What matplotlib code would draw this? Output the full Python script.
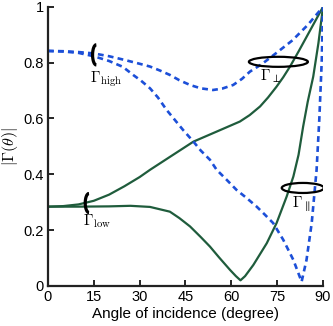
import matplotlib
matplotlib.use("Agg")
import matplotlib.pyplot as plt
from matplotlib.patches import Ellipse, Arc

plt.rcParams['font.family'] = ['Liberation Sans', 'DejaVu Sans']
plt.rcParams['mathtext.fontset'] = 'cm'

# values
theta_perp_low = [0, 5, 10, 15, 20, 25, 30, 33.4, 40, 47.6, 55, 62.8, 66, 69.4, 72, 74.8, 77,
                  79.2, 82, 85, 87.5, 90]
perp_low = [0.284, 0.286, 0.292, 0.305, 0.327, 0.357, 0.39, 0.416, 0.463, 0.517, 0.552, 0.589,
            0.612, 0.643, 0.675, 0.714, 0.748, 0.786, 0.84, 0.9, 0.95, 1.0]

theta_par_low = [0, 10, 20, 27, 33.4, 39.9, 43, 46.5, 50, 53, 56, 59.6, 61.5, 63, 64.5, 67.2,
                 71.6, 74.8, 78.1, 80.3, 82, 83.5, 85, 86.8, 88.5, 90]
par_low = [0.284, 0.284, 0.285, 0.287, 0.283, 0.266, 0.243, 0.213, 0.175, 0.141, 0.102, 0.057,
           0.035, 0.02, 0.035, 0.075, 0.153, 0.225, 0.32, 0.392, 0.47, 0.571, 0.66, 0.75,
           0.87, 1.0]

theta_perp_high = [0, 5, 10, 15, 20, 25, 30, 33.4, 36.6, 39.9, 43, 46.5, 50, 54, 57, 60.6,
                   63.5, 66.1, 70, 75, 80, 85, 90]
perp_high = [0.842, 0.841, 0.838, 0.833, 0.823, 0.81, 0.796, 0.786, 0.772, 0.756, 0.737, 0.72,
             0.708, 0.702, 0.707, 0.72, 0.742, 0.768, 0.795, 0.837, 0.88, 0.935, 1.0]

theta_par_high = [0, 5, 10, 15, 20, 24.5, 28, 30.5, 33.4, 36, 38.8, 41.5, 44.2, 47.6, 50, 53,
                  55.2, 58.5, 61.7, 65, 68.3, 71, 73.7, 77, 80.3, 83, 84.6, 86.3, 87.9, 88.8,
                  89.6, 90]
par_high = [0.842, 0.84, 0.835, 0.823, 0.806, 0.785, 0.755, 0.735, 0.708, 0.675, 0.631, 0.595,
            0.559, 0.517, 0.485, 0.452, 0.416, 0.38, 0.344, 0.315, 0.284, 0.255, 0.225, 0.165,
            0.093, 0.015, 0.093, 0.225, 0.416, 0.6, 0.81, 1.0]

x_ticks = [0, 15, 30, 45, 60, 75, 90]
y_ticks = [0, 0.2, 0.4, 0.6, 0.8, 1]
y_tick_labels = ['0', '0.2', '0.4', '0.6', '0.8', '1']

green = '#1f5c3c'
blue = '#1c4fd8'

fig = plt.figure(figsize=(3.33, 3.26), dpi=100)
ax = fig.add_axes([0.144, 0.123, 0.826, 0.856])

ax.plot(theta_perp_low, perp_low, color=green, lw=1.6)
ax.plot(theta_par_low, par_low, color=green, lw=1.6)
ax.plot(theta_perp_high, perp_high, color=blue, lw=1.9, dashes=(2.2, 1.6))
ax.plot(theta_par_high, par_high, color=blue, lw=1.9, dashes=(2.2, 1.6))

# ellipse markers around curve pairs
ax.add_patch(Arc((15.8, 0.828), 2.4, 0.072, theta1=50, theta2=320, color='black', lw=2.3, zorder=5))
ax.add_patch(Arc((13.4, 0.297), 2.4, 0.068, theta1=50, theta2=320, color='black', lw=2.3, zorder=5))
ax.add_patch(Ellipse((75.4, 0.803), 19.3, 0.036, fill=False, color='black', lw=1.6, zorder=5))
ax.add_patch(Ellipse((83.4, 0.351), 13.8, 0.036, fill=False, color='black', lw=1.6, zorder=5))

ax.text(13.8, 0.775, r'$\Gamma_{\rm high}$', fontsize=11, va='top', ha='left')
ax.text(11.5, 0.265, r'$\Gamma_{\rm low}$', fontsize=11, va='top', ha='left')
ax.text(69.4, 0.783, r'$\Gamma_{\perp}$', fontsize=11, va='top', ha='left')
ax.text(80.0, 0.328, r'$\Gamma_{\parallel}$', fontsize=11, va='top', ha='left')

ax.set_xlim(0, 90)
ax.set_ylim(0, 1)
ax.set_xticks(x_ticks)
ax.set_yticks(y_ticks)
ax.set_yticklabels(y_tick_labels)
ax.tick_params(direction='in', length=4, width=1.2, labelsize=10.5, pad=3)
for s in ['top', 'right']:
    ax.spines[s].set_visible(False)
for s in ['left', 'bottom']:
    ax.spines[s].set_linewidth(1.6)
    ax.spines[s].set_color('#222222')

ax.set_xlabel('Angle of incidence (degree)', fontsize=11, labelpad=2)
ax.set_ylabel(r'$|\Gamma(\theta)|$', fontsize=11.5)
ax.yaxis.set_label_coords(-0.1, 0.5)

plt.savefig('out.png', dpi=100)
